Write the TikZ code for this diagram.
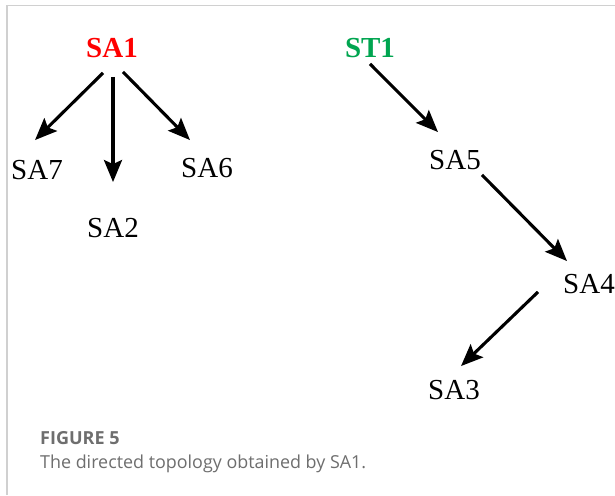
\documentclass[tikz,border=0pt]{standalone}
\usepackage{fontspec}
\setmainfont{Liberation Serif}
\newfontfamily\capfont{Open Sans}
\usetikzlibrary{arrows.meta}
\definecolor{capgray}{HTML}{6E6E6E}
\definecolor{framegray}{HTML}{D0D0D0}
\definecolor{stgreen}{HTML}{00A550}
\definecolor{sared}{HTML}{FF0000}
\tikzset{
  lbl/.style={inner sep=0pt, font=\fontsize{29}{29}\selectfont},
  arr/.style={line width=3.1pt, -{Stealth[length=22pt,width=18pt,inset=4pt]}},
  captionbox/.style={inner sep=0pt, anchor=base west, text=capgray},
}
\begin{document}
\begin{tikzpicture}[x=1pt,y=-1pt]
\useasboundingbox (0,0) rectangle (615,495);
\fill[white] (0,0) rectangle (615,495);
\draw[framegray, line width=1.2pt] (7,495) -- (7,5.5) -- (615,5.5);

\node[lbl, text=sared, font=\fontsize{29}{29}\selectfont\bfseries] (SA1) at (112,48) {SA1};
\node[lbl] (SA7) at (37,170) {SA7};
\node[lbl] (SA2) at (113,228) {SA2};
\node[lbl] (SA6) at (207,168) {SA6};
\node[lbl, text=stgreen, font=\fontsize{29}{29}\selectfont\bfseries] (ST1) at (370,48) {ST1};
\node[lbl] (SA5) at (455,160) {SA5};
\node[lbl] (SA4) at (589,284) {SA4};
\node[lbl] (SA3) at (454,390) {SA3};

\draw[arr] ([shift={(-9,15)}]SA1.south) -- ([shift={(-2,-20)}]SA7.north);
\draw[arr] ([shift={(1,19)}]SA1.south) -- ([shift={(0,-36)}]SA2.north);
\draw[arr] ([shift={(11,14)}]SA1.south) -- ([shift={(-17,-18)}]SA6.north);
\draw[arr] ([shift={(0,6)}]ST1.south) -- ([shift={(-17,-18)}]SA5.north);
\draw[arr] ([shift={(27,5)}]SA5.south) -- ([shift={(-22,-13)}]SA4.north);
\draw[arr] ([shift={(-51,-2)}]SA4.south) -- ([shift={(7,-14)}]SA3.north);

\node[captionbox, font=\capfont\fontsize{18}{18}\selectfont\bfseries] (fig) at (40,444) {FIGURE 5};
\node[captionbox, font=\capfont\fontsize{17.9}{17.9}\selectfont] (captxt) at (40,468) {The directed topology obtained by SA1.};
\end{tikzpicture}
\end{document}
